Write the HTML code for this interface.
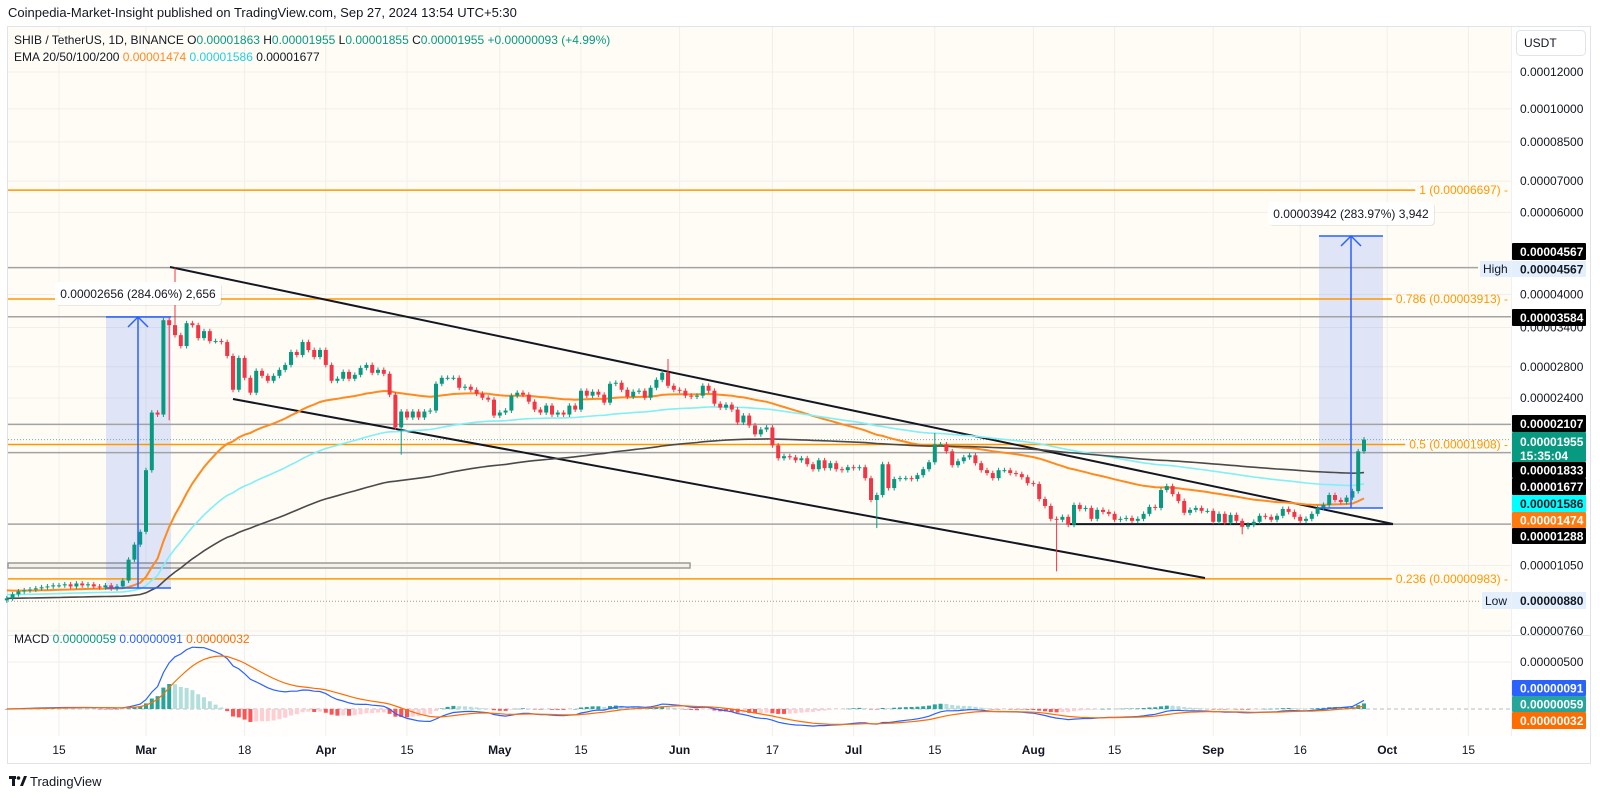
<!DOCTYPE html>
<html><head><meta charset="utf-8">
<style>
html,body{margin:0;padding:0;background:#fff;width:1600px;height:798px;overflow:hidden}
svg{display:block;font-family:"Liberation Sans",sans-serif}
</style></head>
<body>
<svg id="chart" width="1600" height="798" viewBox="0 0 1600 798" xmlns="http://www.w3.org/2000/svg">
  <text x="8" y="17" font-size="13" fill="#131722">Coinpedia-Market-Insight published on TradingView.com, Sep 27, 2024 13:54 UTC+5:30</text>
  <rect x="7.5" y="26.5" width="1583" height="737" fill="#fff" stroke="#e0e3eb"/>
  <rect x="8" y="27" width="1504" height="608" fill="#fffcf6"/>
  <rect x="8" y="636" width="1504" height="100" fill="#fffefc"/>
  <line x1="8" y1="635.5" x2="1590" y2="635.5" stroke="#e0e3eb"/>
  <line x1="1511.5" y1="27" x2="1511.5" y2="736" stroke="#eef0f3"/>
  <g id="grid"></g>
  <g id="drawings"></g>
  <g id="emas"></g>
  <g id="candles"></g>
  <g id="macd"></g>
  <g id="overlay"></g>
  <g id="axis"></g>
  <g id="xaxis"></g>
  <text x="14" y="44" font-size="12" fill="#131722">SHIB / TetherUS, 1D, BINANCE  O<tspan fill="#089981">0.00001863</tspan>  H<tspan fill="#089981">0.00001955</tspan>  L<tspan fill="#089981">0.00001855</tspan>  C<tspan fill="#089981">0.00001955</tspan>  <tspan fill="#089981">+0.00000093 (+4.99%)</tspan></text>
  <text x="14" y="61" font-size="12" fill="#131722">EMA 20/50/100/200  <tspan fill="#ff8a1f">0.00001474</tspan>  <tspan fill="#20d0e0">0.00001586</tspan>  0.00001677</text>
  <text x="14" y="643" font-size="12" fill="#131722">MACD  <tspan fill="#089981">0.00000059</tspan>  <tspan fill="#2962ff">0.00000091</tspan>  <tspan fill="#ff6d00">0.00000032</tspan></text>
  <rect x="1516.5" y="30.5" width="69" height="25" rx="4" fill="#fff" stroke="#e0e3eb"/>
  <text x="1524" y="47" font-size="12" fill="#131722">USDT</text>
  <g>
    <rect x="9" y="776" width="7" height="3" fill="#131722"/>
    <rect x="12" y="776" width="3" height="10" fill="#131722"/>
    <circle cx="18.5" cy="778" r="1.8" fill="#131722"/>
    <polygon points="20,786 24,776 27,776 23,786" fill="#131722"/>
    <text x="30" y="786" font-size="13" fill="#131722">TradingView</text>
  </g>
</svg>
<script>
// ---- data (prices in units of 1e-8 USDT) ----
const startDay = -24; // day 0 = Mar 1, 2024
const closes = [
893,911,924,929,933,938,943,947,952,952,957,947,961,952,957,947,943,952,938,947,975,
1081,1164,1240,1681,2234,2212,3524,3439,3274,3102,3472,3439,3226,3339,3179,3179,3164,2954,2500,2925,
2652,2464,2745,2678,2613,2678,2758,2826,3012,2968,3164,3042,2939,3042,2826,2613,2640,2730,2639,2691,
2785,2826,2718,2758,2705,2440,2076,2245,2180,2245,2180,2245,2256,2575,2652,2652,
2652,2525,2538,2500,2452,2404,2381,2201,2234,2256,
2428,2464,2440,2357,2267,2234,2312,2212,2234,2212,
2312,2267,2488,2428,2476,2440,2346,2575,2588,2500,
2416,2476,2488,2404,2525,2626,2718,2550,2500,2488,
2428,2416,2428,2550,2488,2334,2289,2323,2267,2127,
2201,2096,2006,2055,2076,1900,1783,1801,1791,1765,
1783,1731,1689,1765,1698,1740,1689,1681,1706,
1698,1706,1616,1451,1487,1731,1539,1609,1616,1616,
1609,1640,1689,1748,1909,1909,1845,1723,1757,1791,
1809,1740,1681,1657,1616,1681,1681,1657,1649,1624,
1577,1570,1458,1409,1322,1316,1335,1284,1416,1388,
1395,1322,1382,1368,1355,1316,1322,1328,1309,1322,
1355,1402,1395,1524,1554,1494,1444,1362,1382,1395,
1375,1375,1303,1355,1297,1348,1309,1271,1284,1303,
1342,1335,1316,1342,1388,1368,1335,1309,1322,1355,
1395,1416,1487,
1451,1437,1468,1516,1845,1955
];
const wickHighDays = [5, 90, 136];
const wickHighVals = [4567, 2910, 2020];
const wickLowDays = [44, 126, 157, 189, 4];
const wickLowVals = [1815, 1263, 1020, 1225, 2150];
const emaPeriods = [50, 100, 200];
const emaSeeds = [930, 910, 893];
const emaColors = ['#ff8a1f', '#7ff0f5', '#4a4a4a'];
const priceTicks = [12000, 10000, 8500, 7000, 6000, 4000, 3400, 2800, 2400, 1050, 760];
const priceTickLabels = ['0.00012000','0.00010000','0.00008500','0.00007000','0.00006000','0.00004000','0.00003400','0.00002800','0.00002400','0.00001050','0.00000760'];
const dateDays = [-15, 0, 17, 31, 45, 61, 75, 92, 108, 122, 136, 153, 167, 184, 199, 214, 228];
const dateLabels = ['15','Mar','18','Apr','15','May','15','Jun','17','Jul','15','Aug','15','Sep','16','Oct','15'];
const dateBold = [0,1,0,1,0,1,0,1,0,1,0,1,0,1,0,1,0];
const fibPrices = [6697, 3913, 1908, 983];
const fibLabels = ['1 (0.00006697) -', '0.786 (0.00003913) -', '0.5 (0.00001908) -', '0.236 (0.00000983) -'];
const grayLinePrices = [4567, 3584, 2107, 1833, 1288];
const macdTicks = [500];
const macdTickLabels = ['0.00000500'];

// ---- axes ----
const NS = 'http://www.w3.org/2000/svg';
function xOf(day){ return 146 + 5.8 * day; }
function yOf(p){ return 631 - 202.6 * Math.log(p / 760); }
function yMacd(v){ return 709 - 0.094 * v; }
function mk(tag, attrs, parent){
  const e = document.createElementNS(NS, tag);
  for (const k in attrs) e.setAttribute(k, attrs[k]);
  parent.appendChild(e);
  return e;
}
const G = id => document.getElementById(id);

// grid
const grid = G('grid');
priceTicks.forEach(p => {
  const l = mk('line', {x1: 8, x2: 1511, y1: yOf(p), y2: yOf(p), stroke: '#f1efea', 'stroke-width': 1}, grid);
  
  
});
dateDays.forEach(d => {
  const l = mk('line', {x1: xOf(d), x2: xOf(d), y1: 27, y2: 736, stroke: '#f1efea', 'stroke-width': 1}, grid);
  
  
});
macdTicks.forEach(v => {
  const l = mk('line', {x1: 8, x2: 1511, y1: yMacd(v), y2: yMacd(v), stroke: '#f1efea'}, grid);
  
  
});

// drawings: rect zone, measure boxes, horizontal lines, fibs, channel
const dr = G('drawings');
let z = mk('rect', {x: 8, y: 563, width: 682, height: 5, fill: '#f6f1e6', stroke: '#9a9a9a', 'stroke-width': 1.5}, dr);


let b1 = mk('rect', {x: 106, y: 317, width: 65, height: 271, fill: 'rgba(41,98,255,0.15)'}, dr);


let b2 = mk('rect', {x: 1319, y: 236, width: 64, height: 272, fill: 'rgba(41,98,255,0.15)'}, dr);



grayLinePrices.forEach((p, i) => {
  const x2 = p === 4567 ? 1478 : 1511;
  const l = mk('line', {x1: 8, x2: x2, y1: yOf(p), y2: yOf(p), stroke: '#a3a3a3', 'stroke-width': 1.5}, dr);
  
  
});
let cur = mk('line', {x1: 8, x2: 1511, y1: yOf(1955), y2: yOf(1955), stroke: '#7aa', 'stroke-width': 1, 'stroke-dasharray': '1 2'}, dr);


let low = mk('line', {x1: 8, x2: 1480, y1: yOf(880), y2: yOf(880), stroke: '#999', 'stroke-width': 1, 'stroke-dasharray': '1 2'}, dr);



const ov = G('overlay');
fibPrices.forEach((p, i) => {
  const t = mk('text', {x: 1508, y: yOf(p) + 4, 'font-size': 12, fill: '#ff9800', 'text-anchor': 'end'}, ov);
  t.textContent = fibLabels[i];
  
  
  const w = t.getComputedTextLength ? t.getComputedTextLength() : 110;
  const l = mk('line', {x1: 8, x2: 1504 - w, y1: yOf(p), y2: yOf(p), stroke: '#ff9800', 'stroke-width': 1.5}, dr);
  
  
});
let sup = mk('line', {x1: 1070, x2: 1393, y1: yOf(1288), y2: yOf(1288), stroke: '#131722', 'stroke-width': 2}, dr);


let up = mk('line', {x1: 170, y1: 267, x2: 1393, y2: 524, stroke: '#131722', 'stroke-width': 2}, dr);


let lo = mk('line', {x1: 233, y1: 399, x2: 1205, y2: 578, stroke: '#131722', 'stroke-width': 2}, dr);



// EMAs
const em = G('emas');
emaPeriods.forEach((per, k) => {
  const a = 2 / (per + 1);
  let e = emaSeeds[k];
  let pts = [];
  closes.forEach((c, i) => {
    e = e + a * (c - e);
    pts.push(xOf(startDay + i).toFixed(1) + ',' + yOf(e).toFixed(1));
  });
  const pl = mk('polyline', {points: pts.join(' '), fill: 'none', stroke: emaColors[k], 'stroke-width': k === 0 ? 2 : 1.6}, em);
  
  
});

// candles
const cg = G('candles');
closes.forEach((c, i) => {
  const day = startDay + i;
  const o = i === 0 ? c * 0.99 : closes[i - 1];
  let hi = Math.max(o, c) * 1.012, lw = Math.min(o, c) * 0.988;
  const hk = wickHighDays.indexOf(day); if (hk >= 0) hi = wickHighVals[hk];
  const lk = wickLowDays.indexOf(day); if (lk >= 0) lw = wickLowVals[lk];
  const up = c >= o;
  const col = up ? '#089981' : '#f23645';
  const x = xOf(day);
  const w = mk('line', {x1: x, x2: x, y1: yOf(hi), y2: yOf(lw), stroke: col, 'stroke-width': 1}, cg);
  
  
  const yt = yOf(Math.max(o, c)), yb = yOf(Math.min(o, c));
  const r = mk('rect', {x: x - 2, y: yt, width: 4, height: Math.max(1, yb - yt), fill: col}, cg);
  
  
});

// MACD
const mg = G('macd');
let zl = mk('line', {x1: 8, x2: 1511, y1: yMacd(0), y2: yMacd(0), stroke: '#b8bcc6', 'stroke-dasharray': '4 3'}, mg);


let e12 = closes[0], e26 = closes[0], sig = 0, prevH = 0;
const mPts = [], sPts = [];
closes.forEach((c, i) => {
  e12 += (2 / 13) * (c - e12);
  e26 += (2 / 27) * (c - e26);
  const m = e12 - e26;
  sig += (2 / 10) * (m - sig);
  const h = m - sig;
  const x = xOf(startDay + i);
  let col;
  if (h >= 0) col = h >= prevH ? '#26a69a' : '#b2dfdb';
  else col = h <= prevH ? '#ff5252' : '#ffcdd2';
  const y0 = yMacd(0), y1 = yMacd(h);
  const hb = mk('rect', {x: x - 2, y: Math.min(y0, y1), width: 4, height: Math.max(0.5, Math.abs(y1 - y0)), fill: col}, mg);
  
  
  prevH = h;
  mPts.push(x.toFixed(1) + ',' + Math.max(637, yMacd(m)).toFixed(1));
  sPts.push(x.toFixed(1) + ',' + Math.max(637, yMacd(sig)).toFixed(1));
});
let ml = mk('polyline', {points: mPts.join(' '), fill: 'none', stroke: '#2962ff', 'stroke-width': 1.2}, mg);


let sl = mk('polyline', {points: sPts.join(' '), fill: 'none', stroke: '#ff6d00', 'stroke-width': 1.2}, mg);



// measurement arrows and labels
function arrow(x, yTop, yBot, x1, x2, name){
  const g = mk('g', {}, ov);
  
  
  mk('line', {x1: x, x2: x, y1: yBot, y2: yTop, stroke: '#2962ff', 'stroke-width': 1.5}, g);
  mk('line', {x1: x1, x2: x2, y1: yBot, y2: yBot, stroke: '#2962ff', 'stroke-width': 1.5}, g);
  mk('line', {x1: x1, x2: x2, y1: yTop, y2: yTop, stroke: '#2962ff', 'stroke-width': 1.5}, g);
  mk('polyline', {points: (x - 10) + ',' + (yTop + 10) + ' ' + x + ',' + yTop + ' ' + (x + 10) + ',' + (yTop + 10), fill: 'none', stroke: '#2962ff', 'stroke-width': 1.5}, g);
}
arrow(138, 317, 588, 106, 171, 'measure-arrow-march');
arrow(1351, 236, 508, 1319, 1383, 'measure-arrow-september');
function labelBox(x, y, w, txt, name){
  const g = mk('g', {}, ov);
  
  
  mk('rect', {x: x + 1, y: y + 1, width: w, height: 23, rx: 4, fill: 'rgba(0,0,0,0.08)'}, g);
  mk('rect', {x: x, y: y, width: w, height: 23, rx: 4, fill: '#fff'}, g);
  const t = mk('text', {x: x + w / 2, y: y + 16, 'font-size': 12, fill: '#131722', 'text-anchor': 'middle'}, g);
  t.textContent = txt;
}
labelBox(55, 282, 166, '0.00002656 (284.06%) 2,656', 'measure-label-march');
labelBox(1268, 202, 166, '0.00003942 (283.97%) 3,942', 'measure-label-september');

// price axis
const ax = G('axis');
priceTicks.forEach((p, i) => {
  const t = mk('text', {x: 1520, y: yOf(p) + 4, 'font-size': 12, fill: '#131722'}, ax);
  t.textContent = priceTickLabels[i];
  
  
});
macdTicks.forEach((v, i) => {
  const t = mk('text', {x: 1520, y: yMacd(v) + 4, 'font-size': 12, fill: '#131722'}, ax);
  t.textContent = macdTickLabels[i];
  
  
});
function axisTag(y1, y2, bg, fg, txt, name, txt2){
  const g = mk('g', {}, ax);
  
  
  mk('rect', {x: 1512, y: y1, width: 74, height: y2 - y1, fill: bg, rx: 1}, g);
  const t = mk('text', {x: 1520, y: txt2 ? y1 + 14 : (y1 + y2) / 2 + 4.5, 'font-size': 12, fill: fg, 'font-weight': 'bold'}, g);
  t.textContent = txt;
  if (txt2){
    const t2 = mk('text', {x: 1520, y: y1 + 28, 'font-size': 12, fill: fg, 'font-weight': 'bold'}, g);
    t2.textContent = txt2;
  }
}
axisTag(243, 260, '#000', '#fff', '0.00004567', 'high-tag-black');
axisTag(261, 277, '#e3effd', '#131722', '0.00004567', 'high-price-tag');
axisTag(309, 326, '#000', '#fff', '0.00003584', 'level-tag-3584');
axisTag(415, 432, '#000', '#fff', '0.00002107', 'level-tag-2107');
axisTag(432, 462, '#089981', '#fff', '0.00001955', 'last-price-tag', '15:35:04');
axisTag(462, 478, '#000', '#fff', '0.00001833', 'level-tag-1833');
axisTag(478, 495, '#000', '#fff', '0.00001677', 'ema200-tag');
axisTag(495, 512, '#00ffff', '#131722', '0.00001586', 'ema100-tag');
axisTag(512, 528, '#ff7a0f', '#fff', '0.00001474', 'ema50-tag');
axisTag(528, 544, '#000', '#fff', '0.00001288', 'level-tag-1288');
axisTag(592, 609, '#e3effd', '#131722', '0.00000880', 'low-price-tag');
axisTag(680, 696, '#2962ff', '#fff', '0.00000091', 'macd-value-tag');
axisTag(696, 712, '#26a69a', '#fff', '0.00000059', 'histogram-value-tag');
axisTag(712, 729, '#ff6d00', '#fff', '0.00000032', 'signal-value-tag');
// High / Low side labels
let hb = mk('rect', {x: 1480, y: 261, width: 31, height: 16, fill: '#e3effd'}, ov);


let ht = mk('text', {x: 1483, y: 273, 'font-size': 12, fill: '#131722'}, ov);
ht.textContent = 'High';


let lb = mk('rect', {x: 1482, y: 592, width: 29, height: 17, fill: '#e3effd'}, ov);


let lt = mk('text', {x: 1485, y: 605, 'font-size': 12, fill: '#131722'}, ov);
lt.textContent = 'Low';



// time axis
const xa = G('xaxis');
dateDays.forEach((d, i) => {
  const t = mk('text', {x: xOf(d), y: 754, 'font-size': 12, fill: '#131722', 'text-anchor': 'middle', 'font-weight': dateBold[i] ? 'bold' : 'normal'}, xa);
  t.textContent = dateLabels[i];
  
  
});
</script>
</body></html>
